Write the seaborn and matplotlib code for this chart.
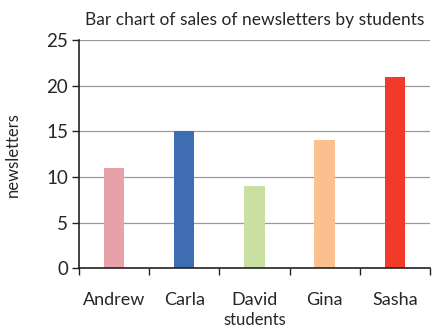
import matplotlib
matplotlib.use("Agg")
import matplotlib.pyplot as plt
import seaborn as sns
import pandas as pd
import numpy as np
from matplotlib.ticker import FixedLocator

students = ["Andrew", "Carla", "David", "Gina", "Sasha"]
newsletters = [11, 15, 9, 14, 21]
colors = ["#E8A1A9", "#3F6DB4", "#C9E0A2", "#FBC08F", "#F23A2B"]
yticks = [0, 5, 10, 15, 20, 25]

sns.set_style("white")
plt.rcParams["font.family"] = ["Lato", "DejaVu Sans"]

df = pd.DataFrame({"students": students, "newsletters": newsletters})

fig = plt.figure(figsize=(4.32, 3.29), dpi=100)
ax = fig.add_axes([0.183, 0.185, 0.812, 0.693])
sns.barplot(data=df, x="students", y="newsletters", hue="students",
            palette=colors, width=0.29, legend=False, ax=ax, saturation=1,
            linewidth=0)

ax.set_ylim(0, 25)
ax.set_xlim(-0.5, 4.5)
ax.set_yticks(yticks)
ax.yaxis.grid(True, color="#9a9a9a", linewidth=0.9)
ax.set_axisbelow(True)
for s in ["top", "right"]:
    ax.spines[s].set_visible(False)
ax.spines["left"].set_color("#222222")
ax.spines["bottom"].set_color("#222222")
ax.spines["left"].set_linewidth(1.2)
ax.spines["bottom"].set_linewidth(1.2)

ax.tick_params(axis="y", left=True, length=5, width=1.0, color="#222222",
               labelsize=13.5, pad=3)
ax.tick_params(axis="x", which="major", bottom=False, length=0, labelsize=13, pad=17)
ax.xaxis.set_minor_locator(FixedLocator(np.arange(-0.5, 5.0, 1.0)))
ax.tick_params(axis="x", which="minor", bottom=True, length=5, width=1.0,
               color="#222222", direction="out")

ax.set_title("Bar chart of sales of newsletters by students", fontsize=12.5, pad=11)
ax.set_xlabel("students", fontsize=12, labelpad=3)
ax.set_ylabel("newsletters", fontsize=12, labelpad=18)

fig.savefig("out.png", dpi=100)
